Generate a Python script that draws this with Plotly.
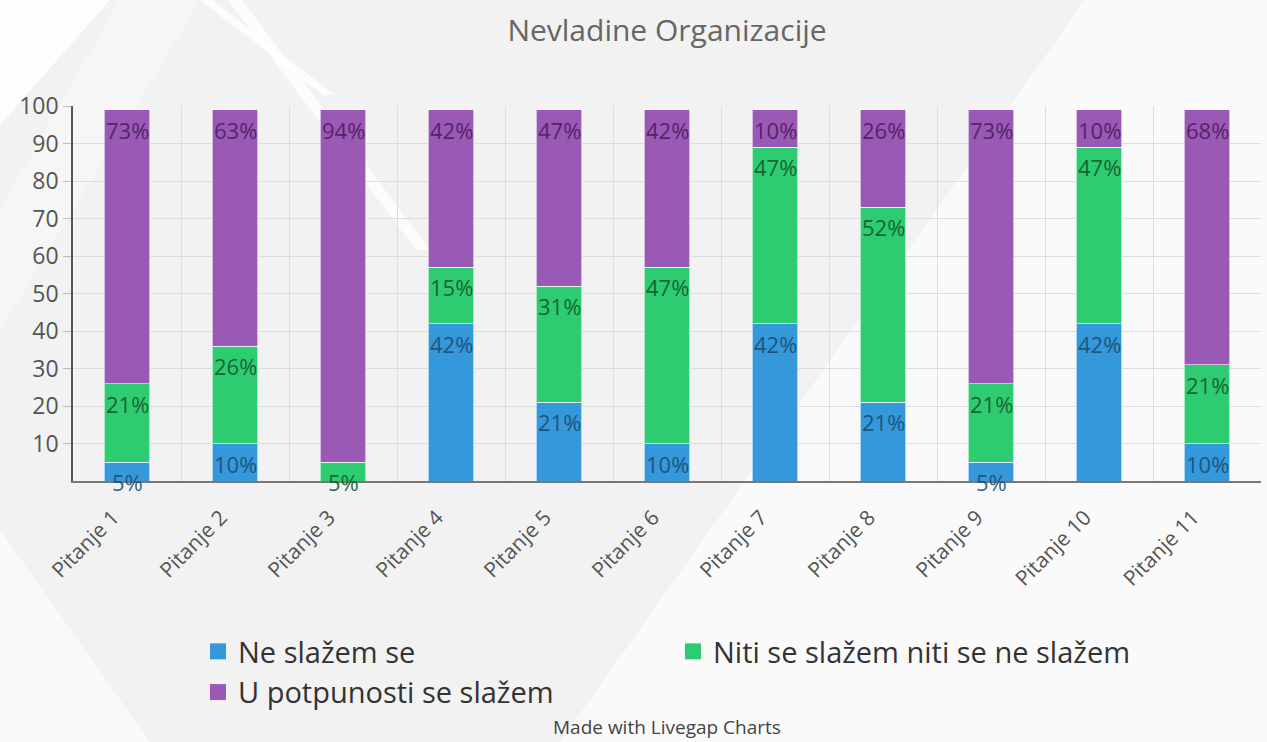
import plotly.graph_objects as go

categories = ["Pitanje 1", "Pitanje 2", "Pitanje 3", "Pitanje 4", "Pitanje 5", "Pitanje 6",
              "Pitanje 7", "Pitanje 8", "Pitanje 9", "Pitanje 10", "Pitanje 11"]
ne_slazem = [5, 10, 0, 42, 21, 10, 42, 21, 5, 42, 10]
niti = [21, 26, 5, 15, 31, 47, 47, 52, 21, 47, 21]
u_potpunosti = [73, 63, 94, 42, 47, 42, 10, 26, 73, 10, 68]
y_ticks = [10, 20, 30, 40, 50, 60, 70, 80, 90, 100]

series = [
    ("Ne slažem se", ne_slazem, "#3498db", "#1d4f73"),
    ("Niti se slažem niti se ne slažem", niti, "#2ecc71", "#145a2e"),
    ("U potpunosti se slažem", u_potpunosti, "#9b59b6", "#4a2160"),
]

FONT = "Open Sans"
W, H = 1267, 742
ML, MR, MT, MB = 73, 6, 106, 261
PW, PH = W - ML - MR, H - MT - MB


def px(x, y):
    return (x - ML) / PW, (H - MB - y) / PH


def poly(points, alpha):
    pts = [px(x, y) for x, y in points]
    path = "M " + " L ".join(f"{a:.4f},{b:.4f}" for a, b in pts) + " Z"
    return dict(type="path", xref="paper", yref="paper", layer="below", path=path,
                fillcolor=f"rgba(255,255,255,{alpha})", line_width=0)


fig = go.Figure()
annotations = []
base = [0] * len(categories)
for name, vals, col, tcol in series:
    fig.add_trace(go.Bar(
        x=categories, y=vals, name=name, marker_color=col, showlegend=False,
        legendgroup=name,
        marker_line=dict(color="rgba(255,255,255,0.6)", width=1),
    ))
    # legend proxy with a larger square swatch
    fig.add_trace(go.Scatter(
        x=[None], y=[None], name=name, mode="markers", legendgroup=name,
        marker=dict(symbol="square", size=30, color=col),
    ))
    for i, v in enumerate(vals):
        top = base[i] + v
        if v > 0:
            annotations.append(dict(
                x=categories[i], y=top, xref="x", yref="y", text=f"{v}%",
                showarrow=False, yanchor="middle", yshift=-20,
                font=dict(family=FONT, size=22, color=tcol), opacity=0.9,
            ))
        base[i] = top

annotations.append(dict(
    x=0.5, y=0.0, xref="paper", yref="paper", yanchor="middle", yshift=-(727 - (H - MB)),
    text="Made with Livegap Charts", showarrow=False,
    font=dict(family=FONT, size=19, color="#444"),
))

shapes = [
    poly([(0, 0), (110, 0), (0, 125)], 0.85),
    poly([(200, 0), (212, 0), (335, 95), (323, 95)], 0.8),
    poly([(228, 0), (242, 0), (430, 250), (416, 250)], 0.75),
    poly([(120, 0), (200, 0), (0, 330), (0, 210)], 0.35),
    poly([(1085, 0), (W, 0), (W, H), (560, H)], 0.6),
    poly([(0, 530), (150, H), (0, H)], 0.5),
]

fig.update_layout(
    barmode="stack",
    bargap=0.58,
    width=W, height=H,
    margin=dict(l=ML, r=MR, t=MT, b=MB),
    paper_bgcolor="#f2f2f2",
    plot_bgcolor="rgba(0,0,0,0)",
    font=dict(family=FONT, color="#555"),
    title=dict(text="Nevladine Organizacije", x=0.5, xref="paper", xanchor="center",
               y=1 - 30 / H, yanchor="middle", font=dict(family=FONT, size=30, color="#666")),
    xaxis=dict(
        tickangle=-45, tickson="boundaries", showgrid=True, gridcolor="#dddddd", gridwidth=1,
        ticks="", showline=True, linecolor="#777", linewidth=2,
        tickfont=dict(family=FONT, size=21, color="#555"),
        ticklabelstandoff=14, ticklabelshift=-14,
    ),
    yaxis=dict(
        range=[0, 100], tickvals=y_ticks, showgrid=True, gridcolor="#dddddd",
        ticks="outside", ticklen=8, tickcolor="#bbb", showline=True, linecolor="#555", linewidth=1.5,
        tickfont=dict(family=FONT, size=23, color="#555"), zeroline=False,
    ),
    legend=dict(
        orientation="h", x=px(198, 0)[0], xanchor="left", y=px(0, 626)[1], yanchor="top",
        entrywidth=430, entrywidthmode="pixels", itemsizing="trace",
        font=dict(family=FONT, size=29, color="#333"), bgcolor="rgba(0,0,0,0)",
        traceorder="normal",
    ),
    annotations=annotations,
    shapes=shapes,
)

fig.write_html(
    "out.html",
    config={"displayModeBar": False},
    post_script="document.body.style.margin='0';document.body.style.background='#f2f2f2';",
)
